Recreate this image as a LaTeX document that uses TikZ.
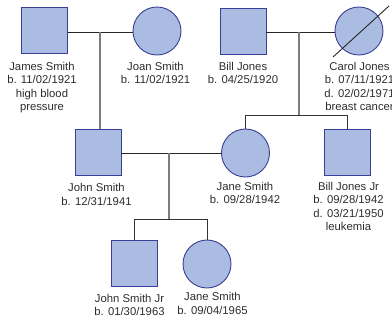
\documentclass[tikz,border=0pt]{standalone}
\usepackage{fontspec}
\setmainfont{Liberation Sans}
\definecolor{shapefill}{RGB}{170,188,226}
\definecolor{shapedraw}{RGB}{58,62,150}
\definecolor{txt}{RGB}{45,45,45}
\definecolor{drop}{RGB}{125,125,125}
\begin{document}
\begin{tikzpicture}[x=1pt,y=-1pt,
  male/.style={draw=shapedraw,fill=shapefill,line width=0.9pt,minimum size=46pt,inner sep=0pt},
  female/.style={circle,draw=shapedraw,fill=shapefill,line width=0.9pt,minimum size=48pt,inner sep=0pt},
  lbl/.style={anchor=north,align=center,inner sep=0pt,text=txt,font=\fontsize{11.3pt}{13.5pt}\selectfont},
  marriage/.style={draw=black!85,line width=1pt},
  descent/.style={draw=drop,line width=1.8pt},
  sibling/.style={draw=black!80,line width=1pt}]
\useasboundingbox (0,0) rectangle (392,322);
% generation 1
\node[male] (james) at (44.5,30.5) {};
\node[female] (joan) at (157,31) {};
\node[male] (bill) at (243,31) {};
\node[female] (carol) at (359,31) {};
% generation 2
\node[male] (john) at (98,152) {};
\node[female] (jane) at (245.5,153) {};
\node[male] (bjr) at (347.5,152) {};
% generation 3
\node[male] (jsjr) at (134.5,263) {};
\node[female] (jane2) at (207,264) {};
% labels
\node[lbl] (ljames) at (42,62) {James Smith\\b. 11/02/1921\\high blood\\pressure};
\node[lbl] (ljoan) at (155.5,62) {Joan Smith\\b. 11/02/1921};
\node[lbl] (lbill) at (243,62) {Bill Jones\\b. 04/25/1920};
\node[lbl] (lcarol) at (359.5,62) {Carol Jones\\b. 07/11/1921\\d. 02/02/1971\\breast cancer};
\node[lbl] (ljohn) at (96.5,183.5) {John Smith\\b. 12/31/1941};
\node[lbl] (ljane) at (245,182) {Jane Smith\\b. 09/28/1942};
\node[lbl] (lbjr) at (348.5,182) {Bill Jones Jr\\b. 09/28/1942\\d. 03/21/1950\\leukemia};
\node[lbl] (ljsjr) at (129.5,294) {John Smith Jr\\b. 01/30/1963};
\node[lbl] (ljane2) at (212.5,292.5) {Jane Smith\\b. 09/04/1965};
% deceased slash
\coordinate (s1) at (333,57);
\coordinate (s2) at (389,6);
\draw[black!85,line width=0.9pt] (s1) -- (s2);
% couple 1
\coordinate (m1) at (100,32);
\draw[marriage] (james.east |- m1) -- (joan.west |- m1);
\draw[descent] (m1) -- (m1 |- john.north);
% couple 2
\coordinate (m2) at (299,32);
\coordinate (k2) at (299,115);
\draw[marriage] (bill.east |- m2) -- (carol.west |- m2);
\draw[descent] (m2) -- (k2);
\draw[sibling] (jane.north |- k2) -- (bjr.north |- k2);
\draw[sibling] (jane.north |- k2) -- (jane.north);
\draw[sibling] (bjr.north |- k2) -- (bjr.north);
% couple 3
\coordinate (m3) at (169,153);
\coordinate (k3) at (169,219);
\draw[marriage] (john.east |- m3) -- (jane.west |- m3);
\draw[descent] (m3) -- (k3);
\draw[sibling] (jsjr.north |- k3) -- (jane2.north |- k3);
\draw[sibling] (jsjr.north |- k3) -- (jsjr.north);
\draw[sibling] (jane2.north |- k3) -- (jane2.north);
\end{tikzpicture}
\end{document}
